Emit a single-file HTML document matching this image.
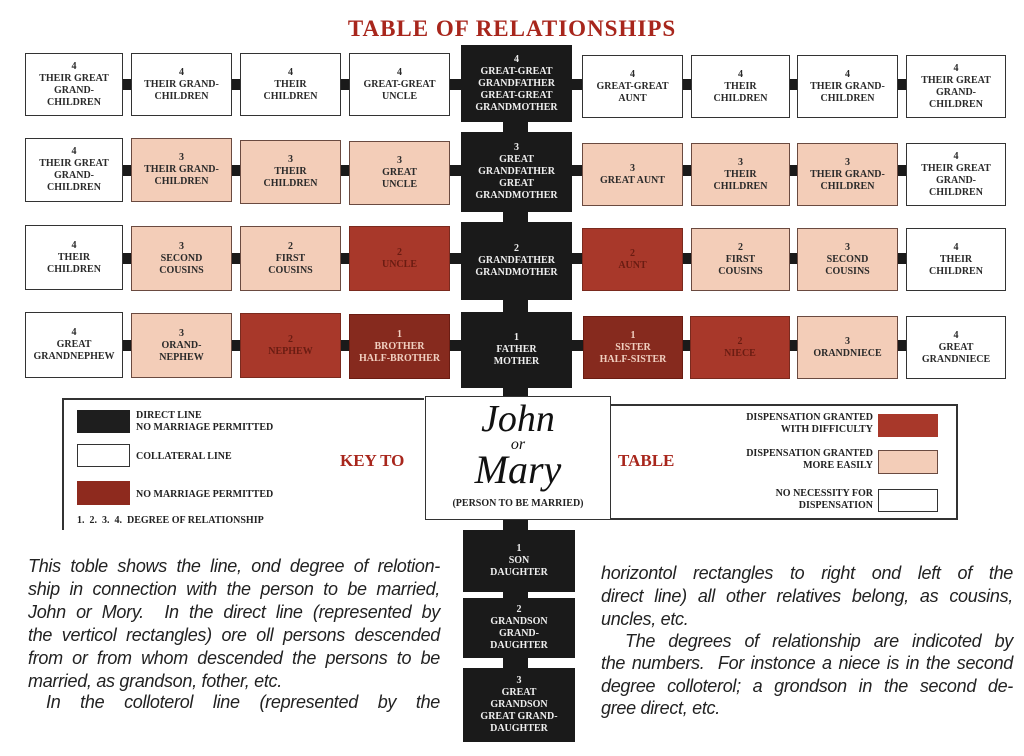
<!DOCTYPE html>
<html><head><meta charset="utf-8"><style>
body{margin:0;width:1024px;height:756px;background:#fff;position:relative;overflow:hidden;font-family:"Liberation Serif",serif}
.a{position:absolute}
.b{position:absolute;display:flex;flex-direction:column;justify-content:center;align-items:center;text-align:center;font:bold 10px/12px "Liberation Serif",serif;border:1.5px solid #333;box-sizing:border-box;color:#2a2a2a}
.w{background:#fff}
.p{background:#f3cdb8;border-color:#6a4a40}
.r{background:#a8382a;color:#6a1c12;border-color:#7a2a1e}
.d{background:#862a1e;color:#f0cfc0;border-color:#6a1c12}
.k{background:#1a1a1a;color:#eee;border:none}
.bar{position:absolute;background:#1a1a1a;height:11px}
.t{position:absolute;font:italic 18px/23px "Liberation Sans",sans-serif;color:#222;width:412px;text-align:justify;text-align-last:justify;white-space:nowrap;letter-spacing:-0.3px}
.s{text-align:left;text-align-last:left}
.kt{position:absolute;font:bold 10px/12px "Liberation Serif",serif;color:#222}
.red{color:#a8261c;font-family:"Liberation Serif",serif;font-weight:bold;white-space:nowrap}
</style></head><body>
<div class="a red" style="left:262px;top:16px;width:500px;text-align:center;font-size:23px;letter-spacing:1px">TABLE OF RELATIONSHIPS</div>

<div class="a" style="left:503px;top:45px;width:25px;height:697px;background:#1a1a1a"></div>
<div class="bar" style="left:100px;width:830px;top:79px"></div>
<div class="bar" style="left:100px;width:830px;top:165px"></div>
<div class="bar" style="left:100px;width:830px;top:253px"></div>
<div class="bar" style="left:100px;width:830px;top:340px"></div>

<!-- row1 -->
<div class="b w" style="left:25px;top:53px;width:98px;height:63px">4<br>THEIR GREAT<br>GRAND-<br>CHILDREN</div>
<div class="b w" style="left:131px;top:53px;width:101px;height:63px">4<br>THEIR GRAND-<br>CHILDREN</div>
<div class="b w" style="left:240px;top:53px;width:101px;height:63px">4<br>THEIR<br>CHILDREN</div>
<div class="b w" style="left:349px;top:53px;width:101px;height:63px">4<br>GREAT-GREAT<br>UNCLE</div>
<div class="b k" style="left:461px;top:45px;width:111px;height:77px">4<br>GREAT-GREAT<br>GRANDFATHER<br>GREAT-GREAT<br>GRANDMOTHER</div>
<div class="b w" style="left:582px;top:55px;width:101px;height:63px">4<br>GREAT-GREAT<br>AUNT</div>
<div class="b w" style="left:691px;top:55px;width:99px;height:63px">4<br>THEIR<br>CHILDREN</div>
<div class="b w" style="left:797px;top:55px;width:101px;height:63px">4<br>THEIR GRAND-<br>CHILDREN</div>
<div class="b w" style="left:906px;top:55px;width:100px;height:63px">4<br>THEIR GREAT<br>GRAND-<br>CHILDREN</div>
<!-- row2 -->
<div class="b w" style="left:25px;top:138px;width:98px;height:64px">4<br>THEIR GREAT<br>GRAND-<br>CHILDREN</div>
<div class="b p" style="left:131px;top:138px;width:101px;height:64px">3<br>THEIR GRAND-<br>CHILDREN</div>
<div class="b p" style="left:240px;top:140px;width:101px;height:64px">3<br>THEIR<br>CHILDREN</div>
<div class="b p" style="left:349px;top:141px;width:101px;height:64px">3<br>GREAT<br>UNCLE</div>
<div class="b k" style="left:461px;top:132px;width:111px;height:80px">3<br>GREAT<br>GRANDFATHER<br>GREAT<br>GRANDMOTHER</div>
<div class="b p" style="left:582px;top:143px;width:101px;height:63px">3<br>GREAT AUNT</div>
<div class="b p" style="left:691px;top:143px;width:99px;height:63px">3<br>THEIR<br>CHILDREN</div>
<div class="b p" style="left:797px;top:143px;width:101px;height:63px">3<br>THEIR GRAND-<br>CHILDREN</div>
<div class="b w" style="left:906px;top:143px;width:100px;height:63px">4<br>THEIR GREAT<br>GRAND-<br>CHILDREN</div>
<!-- row3 -->
<div class="b w" style="left:25px;top:225px;width:98px;height:65px">4<br>THEIR<br>CHILDREN</div>
<div class="b p" style="left:131px;top:226px;width:101px;height:65px">3<br>SECOND<br>COUSINS</div>
<div class="b p" style="left:240px;top:226px;width:101px;height:65px">2<br>FIRST<br>COUSINS</div>
<div class="b r" style="left:349px;top:226px;width:101px;height:65px">2<br>UNCLE</div>
<div class="b k" style="left:461px;top:222px;width:111px;height:78px">2<br>GRANDFATHER<br>GRANDMOTHER</div>
<div class="b r" style="left:582px;top:228px;width:101px;height:63px">2<br>AUNT</div>
<div class="b p" style="left:691px;top:228px;width:99px;height:63px">2<br>FIRST<br>COUSINS</div>
<div class="b p" style="left:797px;top:228px;width:101px;height:63px">3<br>SECOND<br>COUSINS</div>
<div class="b w" style="left:906px;top:228px;width:100px;height:63px">4<br>THEIR<br>CHILDREN</div>
<!-- row4 -->
<div class="b w" style="left:25px;top:312px;width:98px;height:66px">4<br>GREAT<br>GRANDNEPHEW</div>
<div class="b p" style="left:131px;top:313px;width:101px;height:65px">3<br>ORAND-<br>NEPHEW</div>
<div class="b r" style="left:240px;top:313px;width:101px;height:65px">2<br>NEPHEW</div>
<div class="b d" style="left:349px;top:314px;width:101px;height:65px">1<br>BROTHER<br>HALF-BROTHER</div>
<div class="b k" style="left:461px;top:312px;width:111px;height:76px">1<br>FATHER<br>MOTHER</div>
<div class="b d" style="left:583px;top:316px;width:100px;height:63px">1<br>SISTER<br>HALF-SISTER</div>
<div class="b r" style="left:690px;top:316px;width:100px;height:63px">2<br>NIECE</div>
<div class="b p" style="left:797px;top:316px;width:101px;height:63px">3<br>ORANDNIECE</div>
<div class="b w" style="left:906px;top:316px;width:100px;height:63px">4<br>GREAT<br>GRANDNIECE</div>

<!-- key left -->
<div class="a" style="left:62px;top:398px;width:362px;height:132px;border-left:2px solid #333;border-top:2px solid #333;box-sizing:border-box"></div>
<div class="a" style="left:77px;top:410px;width:53px;height:23px;background:#1e1e1e"></div>
<div class="kt" style="left:136px;top:410px">DIRECT LINE<br>NO MARRIAGE PERMITTED</div>
<div class="a" style="left:77px;top:444px;width:53px;height:23px;border:1.5px solid #333;box-sizing:border-box"></div>
<div class="kt" style="left:136px;top:451px">COLLATERAL LINE</div>
<div class="a" style="left:77px;top:481px;width:53px;height:24px;background:#8e2a1e"></div>
<div class="kt" style="left:136px;top:489px">NO MARRIAGE PERMITTED</div>
<div class="kt" style="left:77px;top:515px">1. &nbsp;2. &nbsp;3. &nbsp;4. &nbsp;DEGREE OF RELATIONSHIP</div>
<div class="a red" style="left:340px;top:451px;font-size:17px">KEY TO</div>

<!-- John -->
<div class="a" style="left:425px;top:396px;width:186px;height:124px;border:1.5px solid #333;box-sizing:border-box;background:#fff"></div>
<div class="a" style="left:425px;top:400px;width:186px;text-align:center;font:italic 38px/38px 'Liberation Serif',serif;color:#111">John</div>
<div class="a" style="left:425px;top:437px;width:186px;text-align:center;font:italic 16px/16px 'Liberation Serif',serif;color:#111">or</div>
<div class="a" style="left:425px;top:450px;width:186px;text-align:center;font:italic 40px/40px 'Liberation Serif',serif;color:#111">Mary</div>
<div class="kt" style="left:425px;top:498px;width:186px;text-align:center">(PERSON TO BE MARRIED)</div>

<!-- key right -->
<div class="a" style="left:610px;top:404px;width:348px;height:116px;border:2px solid #333;border-left:none;box-sizing:border-box"></div>
<div class="a red" style="left:618px;top:451px;font-size:17px">TABLE</div>
<div class="kt" style="left:700px;top:412px;width:173px;text-align:right">DISPENSATION GRANTED<br>WITH DIFFICULTY</div>
<div class="a" style="left:878px;top:414px;width:60px;height:23px;background:#a8382a"></div>
<div class="kt" style="left:700px;top:448px;width:173px;text-align:right">DISPENSATION GRANTED<br>MORE EASILY</div>
<div class="a" style="left:878px;top:450px;width:60px;height:24px;background:#f3cdb8;border:1.5px solid #6a4a40;box-sizing:border-box"></div>
<div class="kt" style="left:700px;top:488px;width:173px;text-align:right">NO NECESSITY FOR<br>DISPENSATION</div>
<div class="a" style="left:878px;top:489px;width:60px;height:23px;border:1.5px solid #333;box-sizing:border-box"></div>

<!-- lower black -->
<div class="b k" style="left:463px;top:530px;width:112px;height:62px">1<br>SON<br>DAUGHTER</div>
<div class="b k" style="left:463px;top:598px;width:112px;height:60px">2<br>GRANDSON<br>GRAND-<br>DAUGHTER</div>
<div class="b k" style="left:463px;top:668px;width:112px;height:74px">3<br>GREAT<br>GRANDSON<br>GREAT GRAND-<br>DAUGHTER</div>

<!-- text -->
<div class="t" style="left:28px;top:555px">This toble shows the line, ond degree of relotion-</div>
<div class="t" style="left:28px;top:578px">ship in connection with the person to be married,</div>
<div class="t" style="left:28px;top:601px">John or Mory. &nbsp;In the direct line (represented by</div>
<div class="t" style="left:28px;top:624px">the verticol rectangles) ore oll persons descended</div>
<div class="t" style="left:28px;top:647px">from or from whom descended the persons to be</div>
<div class="t s" style="left:28px;top:670px">married, as grandson, fother, etc.</div>
<div class="t" style="left:46px;top:691px;width:394px">In the colloterol line (represented by the</div>
<div class="t" style="left:601px;top:562px">horizontol rectangles to right ond left of the</div>
<div class="t" style="left:601px;top:585px">direct line) all other relatives belong, as cousins,</div>
<div class="t s" style="left:601px;top:608px">uncles, etc.</div>
<div class="t" style="left:625px;top:630px;width:388px">The degrees of relationship are indicoted by</div>
<div class="t" style="left:601px;top:652px">the numbers. &nbsp;For instonce a niece is in the second</div>
<div class="t" style="left:601px;top:675px">degree colloterol; a grondson in the second de-</div>
<div class="t s" style="left:601px;top:697px">gree direct, etc.</div>
</body></html>
